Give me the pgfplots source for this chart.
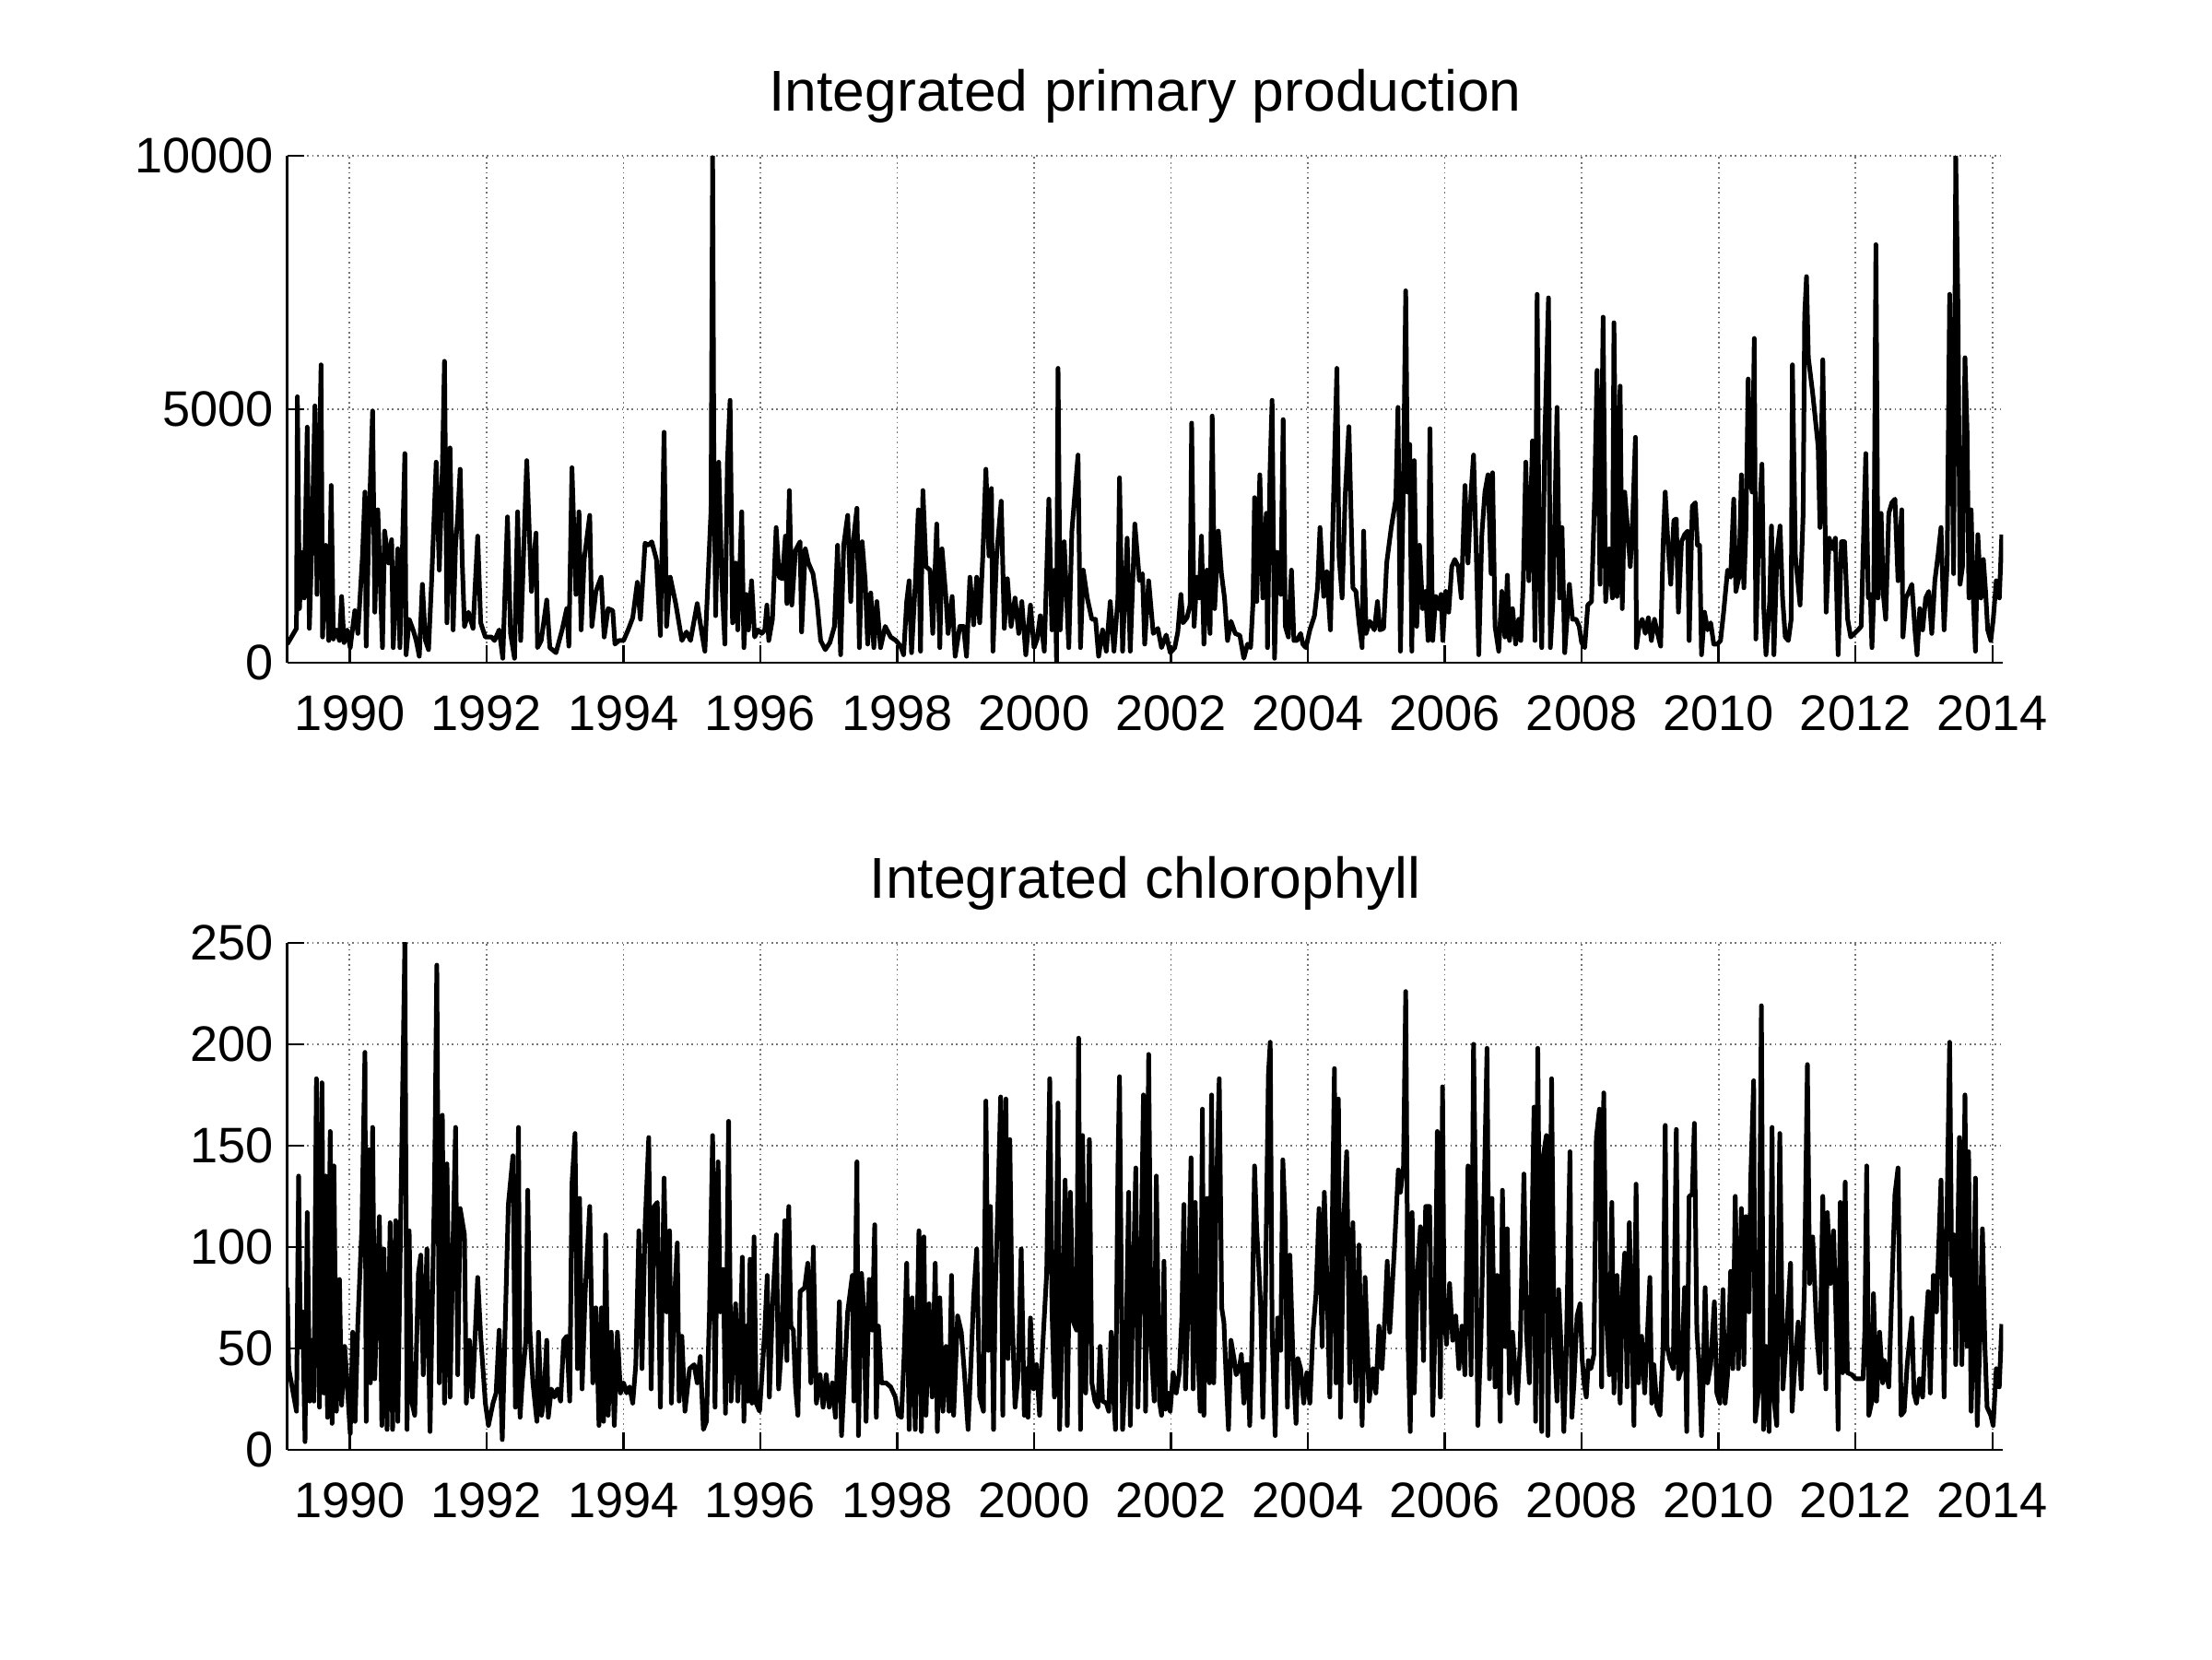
\documentclass[border=0pt]{standalone}
\usepackage{fontspec}
\setmainfont{Liberation Sans}
\usepackage{pgfplots}
\pgfplotsset{compat=1.18}
\pgfplotsset{
  matstyle/.style={
    scale only axis,
    width=446.8pt, height=132pt,
    anchor=south west,
    xmin=1989.09, xmax=2014.156,
    xtick={1990,1992,1994,1996,1998,2000,2002,2004,2006,2008,2010,2012,2014},
    axis x line*=bottom, axis y line*=left,
    axis line style={line width=0.6pt,-},
    tick align=inside, major tick length=4.5pt,
    tick style={line width=0.6pt, black},
    grid=major,
    grid style={dash pattern=on 0.4pt off 0.9pt, line width=0.4pt, black!55},
    scaled ticks=false,
    /pgf/number format/1000 sep={},
    /pgf/number format/assume math mode=true,
    tick label style={font=\fontsize{13}{15}\selectfont},
    xticklabel style={yshift=-5pt},
    title style={font=\fontsize{15}{18}\selectfont, yshift=-1pt},
    clip=true,
  },
  matline/.style={black, line width=1.2pt, line join=round},
}
\begin{document}
\begin{tikzpicture}
\path[use as bounding box] (0,0) rectangle (576pt,432pt);
\begin{axis}[matstyle, at={(74.8pt,259.4pt)},
  ymin=0, ymax=10000, ytick={0,5000,10000},
  title={Integrated primary production}]
\addplot[matline] table {
1989.090 370
1989.225 680
1989.238 5250
1989.269 1070
1989.301 2180
1989.337 1280
1989.382 4650
1989.413 680
1989.449 2320
1989.494 5070
1989.525 1350
1989.584 5880
1989.606 510
1989.651 2320
1989.696 440
1989.732 3500
1989.763 470
1989.808 650
1989.853 440
1989.884 1310
1989.920 400
1989.965 650
1990.010 300
1990.077 1030
1990.122 580
1990.189 2110
1990.225 3370
1990.243 330
1990.279 2530
1990.337 4970
1990.369 1000
1990.413 3020
1990.481 300
1990.512 2600
1990.571 1970
1990.615 2430
1990.638 300
1990.705 2250
1990.736 300
1990.808 4130
1990.826 160
1990.871 860
1990.929 650
1990.974 440
1991.019 130
1991.064 1550
1991.109 440
1991.154 260
1991.199 1620
1991.266 3960
1991.311 1830
1991.356 3850
1991.387 5950
1991.423 790
1991.468 4240
1991.513 650
1991.549 2320
1991.580 2880
1991.616 3820
1991.647 1970
1991.679 720
1991.737 1000
1991.804 680
1991.872 2500
1991.916 790
1991.984 510
1992.073 510
1992.118 440
1992.186 650
1992.239 90
1992.307 2880
1992.352 580
1992.410 90
1992.455 2980
1992.500 440
1992.589 3990
1992.657 1410
1992.724 2560
1992.746 300
1992.800 440
1992.881 1240
1992.926 300
1993.016 200
1993.105 650
1993.173 1070
1993.204 330
1993.249 3850
1993.307 1350
1993.352 2980
1993.383 650
1993.428 2040
1993.509 2910
1993.540 720
1993.599 1410
1993.675 1690
1993.720 510
1993.778 1070
1993.845 1030
1993.877 370
1993.935 440
1994.003 440
1994.070 650
1994.137 890
1994.204 1590
1994.249 860
1994.317 2360
1994.371 2320
1994.415 2390
1994.483 2040
1994.541 540
1994.595 4550
1994.631 720
1994.685 1690
1994.765 1170
1994.855 440
1994.922 610
1994.981 440
1995.079 1170
1995.147 580
1995.191 230
1995.236 1620
1995.281 3020
1995.304 10000
1995.321 4410
1995.348 930
1995.393 3960
1995.438 1620
1995.483 370
1995.520 3960
1995.559 5180
1995.595 790
1995.640 1970
1995.671 650
1995.729 2980
1995.761 300
1995.797 1350
1995.828 650
1995.873 1620
1995.918 510
1995.967 650
1996.021 580
1996.066 650
1996.097 1140
1996.124 440
1996.178 860
1996.232 2670
1996.277 1690
1996.322 1660
1996.367 2500
1996.389 1170
1996.425 3400
1996.461 1140
1996.515 2220
1996.582 2390
1996.604 610
1996.658 2250
1996.703 1970
1996.770 1760
1996.829 1210
1996.882 440
1996.950 260
1997.017 400
1997.084 720
1997.129 2320
1997.174 160
1997.219 2320
1997.277 2910
1997.322 1210
1997.358 2390
1997.412 3050
1997.448 300
1997.488 2390
1997.533 1620
1997.569 370
1997.614 1380
1997.659 300
1997.703 1210
1997.757 300
1997.825 720
1997.905 510
1997.982 440
1998.049 330
1998.094 160
1998.139 1210
1998.175 1620
1998.210 200
1998.264 1550
1998.309 3020
1998.341 230
1998.376 3400
1998.421 1900
1998.480 1830
1998.520 580
1998.578 2740
1998.623 300
1998.655 2250
1998.713 1280
1998.744 580
1998.803 1310
1998.847 130
1998.915 720
1998.969 720
1999.013 130
1999.063 1690
1999.117 750
1999.162 1690
1999.206 790
1999.251 2110
1999.296 3820
1999.341 2110
1999.377 3440
1999.399 230
1999.453 2110
1999.520 3190
1999.565 680
1999.610 1660
1999.664 720
1999.722 1280
1999.776 580
1999.821 1210
1999.879 160
1999.947 1140
2000.000 300
2000.045 470
2000.090 930
2000.149 230
2000.216 3230
2000.261 650
2000.306 1830
2000.328 20
2000.350 5810
2000.382 650
2000.440 2390
2000.507 300
2000.552 2600
2000.642 4100
2000.678 300
2000.718 1830
2000.777 1280
2000.844 860
2000.898 860
2000.943 130
2001.001 650
2001.055 230
2001.113 1210
2001.167 230
2001.225 1280
2001.248 3650
2001.293 230
2001.360 2460
2001.405 230
2001.472 2740
2001.539 1620
2001.584 1760
2001.616 370
2001.674 1620
2001.741 580
2001.808 680
2001.862 300
2001.930 550
2001.990 200
2002.055 300
2002.100 610
2002.145 1350
2002.176 790
2002.234 890
2002.279 1140
2002.302 4730
2002.338 720
2002.378 1690
2002.414 1280
2002.445 2500
2002.481 370
2002.526 1830
2002.571 580
2002.602 4870
2002.638 1070
2002.692 2600
2002.737 1760
2002.782 1280
2002.826 440
2002.876 820
2002.939 580
2003.006 540
2003.064 90
2003.118 370
2003.163 300
2003.199 1210
2003.221 3260
2003.253 1210
2003.298 3710
2003.342 1280
2003.392 2950
2003.410 300
2003.446 3750
2003.477 5180
2003.513 90
2003.549 2180
2003.603 1350
2003.639 4800
2003.670 720
2003.715 510
2003.760 1830
2003.796 440
2003.840 440
2003.894 580
2003.926 370
2003.971 300
2004.029 650
2004.096 930
2004.141 1480
2004.177 2670
2004.231 1310
2004.276 1800
2004.329 650
2004.374 3230
2004.424 5810
2004.455 2110
2004.500 1280
2004.545 3300
2004.599 4660
2004.657 1480
2004.702 1410
2004.747 790
2004.792 300
2004.814 2600
2004.850 580
2004.904 820
2004.971 650
2005.016 1210
2005.052 650
2005.106 680
2005.151 1970
2005.218 2670
2005.285 3230
2005.316 5040
2005.352 230
2005.397 3650
2005.429 7340
2005.456 3370
2005.487 4310
2005.518 230
2005.554 3990
2005.590 720
2005.631 2320
2005.675 1070
2005.720 1410
2005.756 440
2005.783 4620
2005.823 440
2005.868 1310
2005.913 1070
2005.945 1350
2005.971 440
2006.012 1410
2006.057 1000
2006.102 1900
2006.146 2040
2006.196 1900
2006.241 1280
2006.295 3500
2006.339 1970
2006.384 3370
2006.420 4100
2006.461 2110
2006.496 160
2006.541 2530
2006.586 3370
2006.631 3710
2006.676 1760
2006.698 3750
2006.734 720
2006.788 230
2006.833 1410
2006.878 510
2006.914 1730
2006.945 440
2006.990 1070
2007.035 370
2007.080 860
2007.111 440
2007.147 1620
2007.183 3960
2007.228 1620
2007.281 4380
2007.317 440
2007.349 7270
2007.380 1970
2007.416 300
2007.461 4450
2007.515 7200
2007.542 300
2007.582 1280
2007.640 5040
2007.676 1280
2007.712 2670
2007.752 200
2007.820 1550
2007.865 860
2007.918 860
2007.963 720
2007.999 400
2008.044 300
2008.089 1140
2008.143 1210
2008.188 3230
2008.224 5770
2008.268 1550
2008.313 6820
2008.349 1210
2008.404 2250
2008.449 1280
2008.471 6710
2008.516 1310
2008.561 5460
2008.592 1070
2008.628 3370
2008.673 2600
2008.709 1900
2008.740 2670
2008.785 4450
2008.799 300
2008.839 720
2008.884 860
2008.929 580
2008.974 890
2009.018 440
2009.063 860
2009.108 580
2009.153 330
2009.189 2320
2009.220 3370
2009.256 2460
2009.301 1550
2009.346 2810
2009.382 2840
2009.413 1000
2009.458 2390
2009.503 2530
2009.548 2600
2009.570 440
2009.615 3090
2009.660 3160
2009.691 2320
2009.723 2320
2009.750 160
2009.794 1000
2009.839 650
2009.884 790
2009.929 370
2009.983 370
2010.028 440
2010.073 1000
2010.131 1830
2010.176 1690
2010.221 3230
2010.252 1410
2010.297 1690
2010.333 3710
2010.369 1480
2010.400 2670
2010.432 5600
2010.458 3650
2010.490 3370
2010.521 6400
2010.544 470
2010.589 2670
2010.633 3920
2010.660 1070
2010.692 160
2010.746 1210
2010.772 2700
2010.808 160
2010.853 2180
2010.898 2700
2010.934 1280
2010.974 510
2011.019 440
2011.060 860
2011.078 5880
2011.122 2110
2011.190 1140
2011.235 2950
2011.257 6850
2011.284 7620
2011.311 6020
2011.374 5320
2011.454 4270
2011.481 2670
2011.522 5980
2011.544 4060
2011.571 1000
2011.616 2460
2011.661 2250
2011.706 2460
2011.746 160
2011.795 2390
2011.840 2390
2011.885 860
2011.930 510
2011.984 580
2012.038 650
2012.083 720
2012.110 2110
2012.150 4130
2012.186 1280
2012.217 1350
2012.240 300
2012.267 1350
2012.298 8250
2012.329 1280
2012.374 2950
2012.406 1350
2012.441 860
2012.486 2950
2012.531 3160
2012.576 3230
2012.621 1620
2012.675 3020
2012.693 510
2012.737 1280
2012.782 1410
2012.823 1550
2012.868 650
2012.899 160
2012.939 1070
2012.980 650
2013.025 1280
2013.070 1410
2013.114 580
2013.159 1620
2013.204 2110
2013.249 2670
2013.294 650
2013.339 1970
2013.375 7270
2013.406 4690
2013.433 1760
2013.464 10000
2013.496 7060
2013.527 1550
2013.563 1900
2013.599 6020
2013.630 4550
2013.657 1280
2013.689 3020
2013.720 1280
2013.752 230
2013.787 2530
2013.832 1280
2013.868 2040
2013.900 1410
2013.931 650
2013.976 440
2014.012 860
2014.056 1620
2014.101 1280
2014.137 2530
};
\end{axis}
\begin{axis}[matstyle, at={(74.8pt,54.5pt)},
  ymin=0, ymax=250, ytick={0,50,100,150,200,250},
  title={Integrated chlorophyll}]
\addplot[matline] table {
1989.090 80
1989.112 40
1989.225 19
1989.256 135
1989.283 51
1989.314 68
1989.350 4
1989.382 117
1989.418 24
1989.449 54
1989.480 24
1989.516 183
1989.561 21
1989.597 181
1989.628 28
1989.651 135
1989.678 16
1989.718 157
1989.745 13
1989.772 140
1989.808 19
1989.853 84
1989.884 22
1989.929 51
1989.965 33
1990.010 8
1990.046 58
1990.081 14
1990.122 63
1990.180 110
1990.225 196
1990.243 14
1990.279 148
1990.306 33
1990.337 159
1990.369 35
1990.400 75
1990.436 115
1990.472 12
1990.503 99
1990.548 10
1990.593 112
1990.629 10
1990.674 113
1990.705 14
1990.750 120
1990.808 250
1990.840 10
1990.871 108
1990.907 24
1990.952 17
1991.006 87
1991.041 96
1991.077 37
1991.131 99
1991.176 9
1991.203 61
1991.243 134
1991.275 239
1991.311 33
1991.356 165
1991.387 23
1991.423 141
1991.468 26
1991.513 105
1991.549 159
1991.580 37
1991.616 119
1991.679 106
1991.706 23
1991.751 54
1991.795 26
1991.872 85
1991.916 56
1991.984 23
1992.029 12
1992.096 23
1992.141 28
1992.186 59
1992.231 5
1992.275 63
1992.320 121
1992.387 145
1992.423 21
1992.468 159
1992.491 16
1992.522 33
1992.576 54
1992.603 128
1992.634 59
1992.679 33
1992.737 14
1992.760 58
1992.805 17
1992.836 24
1992.881 54
1992.903 16
1992.948 30
1992.993 26
1993.038 30
1993.083 24
1993.128 54
1993.173 56
1993.217 24
1993.249 131
1993.294 156
1993.330 40
1993.361 124
1993.397 30
1993.442 77
1993.509 120
1993.554 33
1993.599 70
1993.644 12
1993.680 70
1993.711 14
1993.742 106
1993.778 17
1993.823 58
1993.868 12
1993.913 58
1993.958 28
1994.003 33
1994.047 28
1994.092 31
1994.137 23
1994.182 42
1994.227 108
1994.272 40
1994.317 110
1994.371 154
1994.406 30
1994.451 120
1994.496 122
1994.541 21
1994.595 134
1994.631 68
1994.675 108
1994.702 23
1994.743 72
1994.788 102
1994.815 24
1994.855 56
1994.900 19
1994.967 40
1995.034 42
1995.079 33
1995.124 46
1995.169 10
1995.214 14
1995.258 68
1995.304 155
1995.339 21
1995.384 142
1995.415 68
1995.460 89
1995.492 18
1995.537 162
1995.573 24
1995.640 72
1995.671 24
1995.707 51
1995.738 95
1995.761 14
1995.788 61
1995.819 24
1995.851 94
1995.878 23
1995.909 105
1995.940 23
1995.990 19
1996.021 35
1996.066 59
1996.102 86
1996.133 26
1996.178 70
1996.236 106
1996.268 30
1996.313 52
1996.358 113
1996.389 44
1996.416 120
1996.447 61
1996.483 59
1996.515 31
1996.550 17
1996.582 78
1996.649 80
1996.694 92
1996.739 33
1996.775 100
1996.820 23
1996.873 37
1996.918 21
1996.963 37
1997.008 21
1997.053 33
1997.098 16
1997.156 73
1997.187 7
1997.232 38
1997.277 68
1997.345 86
1997.367 24
1997.412 142
1997.434 7
1997.479 87
1997.511 70
1997.546 14
1997.591 84
1997.636 59
1997.672 111
1997.695 16
1997.726 61
1997.771 33
1997.838 33
1997.905 31
1997.973 26
1998.017 17
1998.062 16
1998.107 51
1998.139 92
1998.175 10
1998.219 75
1998.264 10
1998.318 108
1998.354 9
1998.390 105
1998.421 17
1998.466 72
1998.511 26
1998.556 92
1998.587 9
1998.623 75
1998.668 19
1998.713 51
1998.758 19
1998.794 86
1998.825 17
1998.883 66
1998.937 58
1998.982 38
1999.036 10
1999.072 38
1999.117 75
1999.162 99
1999.206 26
1999.260 19
1999.296 172
1999.332 49
1999.363 120
1999.408 10
1999.431 75
1999.476 127
1999.512 174
1999.543 17
1999.588 173
1999.619 45
1999.646 153
1999.677 70
1999.722 21
1999.767 37
1999.812 99
1999.857 17
1999.879 40
1999.911 16
1999.947 65
1999.992 30
2000.036 42
2000.081 17
2000.126 51
2000.184 87
2000.229 183
2000.261 70
2000.297 26
2000.328 106
2000.350 171
2000.373 10
2000.409 58
2000.454 133
2000.485 12
2000.530 127
2000.575 63
2000.620 59
2000.651 203
2000.678 10
2000.709 155
2000.754 28
2000.808 153
2000.844 33
2000.889 24
2000.934 21
2000.965 51
2001.001 24
2001.055 23
2001.091 19
2001.126 58
2001.158 28
2001.189 10
2001.225 140
2001.248 184
2001.293 10
2001.337 38
2001.382 127
2001.405 12
2001.450 86
2001.486 139
2001.517 21
2001.562 92
2001.598 175
2001.629 19
2001.674 195
2001.710 51
2001.755 24
2001.786 135
2001.831 24
2001.862 17
2001.898 93
2001.920 20
2001.952 28
2001.988 19
2002.032 38
2002.077 28
2002.122 38
2002.158 65
2002.189 121
2002.212 30
2002.248 68
2002.293 144
2002.324 30
2002.355 122
2002.382 59
2002.427 19
2002.459 168
2002.481 17
2002.526 124
2002.562 33
2002.593 175
2002.625 33
2002.661 124
2002.705 183
2002.741 70
2002.773 63
2002.804 37
2002.840 10
2002.876 54
2002.921 45
2002.952 37
2002.997 40
2003.028 47
2003.064 23
2003.096 42
2003.127 42
2003.150 12
2003.176 42
2003.221 140
2003.253 108
2003.280 92
2003.311 70
2003.342 16
2003.378 73
2003.423 185
2003.450 201
2003.477 59
2003.522 7
2003.558 65
2003.603 49
2003.634 143
2003.670 112
2003.701 21
2003.737 96
2003.782 45
2003.827 13
2003.854 45
2003.894 40
2003.939 23
2003.984 38
2004.029 23
2004.074 58
2004.119 77
2004.163 119
2004.208 51
2004.240 127
2004.276 86
2004.320 26
2004.388 188
2004.410 33
2004.446 173
2004.477 16
2004.522 112
2004.567 147
2004.612 33
2004.657 112
2004.702 24
2004.747 101
2004.792 12
2004.836 85
2004.895 24
2004.949 40
2004.993 28
2005.038 61
2005.083 40
2005.128 68
2005.159 93
2005.195 58
2005.262 98
2005.321 138
2005.352 127
2005.397 140
2005.429 226
2005.464 52
2005.496 9
2005.523 117
2005.554 28
2005.599 86
2005.644 110
2005.689 44
2005.720 120
2005.778 120
2005.823 17
2005.855 56
2005.891 157
2005.935 26
2005.967 179
2005.989 68
2006.025 52
2006.070 82
2006.115 54
2006.160 66
2006.205 40
2006.250 61
2006.294 37
2006.339 140
2006.384 37
2006.420 200
2006.452 117
2006.483 12
2006.528 56
2006.573 124
2006.617 198
2006.653 35
2006.689 124
2006.734 31
2006.765 86
2006.810 14
2006.842 128
2006.877 51
2006.913 109
2006.945 28
2006.990 58
2007.057 23
2007.102 52
2007.156 136
2007.192 58
2007.236 33
2007.304 169
2007.326 14
2007.358 198
2007.394 59
2007.416 9
2007.439 145
2007.484 155
2007.506 7
2007.528 68
2007.560 183
2007.595 56
2007.640 24
2007.663 79
2007.708 44
2007.739 9
2007.775 49
2007.829 147
2007.856 16
2007.887 33
2007.932 66
2007.977 72
2008.008 44
2008.035 33
2008.067 26
2008.098 44
2008.134 40
2008.178 47
2008.214 154
2008.259 168
2008.291 31
2008.322 176
2008.358 68
2008.404 37
2008.440 122
2008.471 28
2008.516 86
2008.561 23
2008.592 75
2008.628 97
2008.664 31
2008.695 112
2008.727 73
2008.763 12
2008.794 131
2008.830 33
2008.875 56
2008.920 28
2008.965 61
2008.996 85
2009.023 23
2009.054 42
2009.099 21
2009.144 17
2009.189 51
2009.220 160
2009.247 51
2009.292 44
2009.337 40
2009.382 158
2009.413 35
2009.458 40
2009.503 80
2009.534 9
2009.570 125
2009.615 126
2009.646 161
2009.682 59
2009.714 42
2009.750 7
2009.772 31
2009.803 80
2009.839 33
2009.884 42
2009.938 73
2009.974 28
2010.019 23
2010.064 79
2010.095 23
2010.131 37
2010.176 88
2010.207 40
2010.243 125
2010.288 40
2010.333 119
2010.369 42
2010.400 115
2010.445 68
2010.467 131
2010.512 182
2010.535 14
2010.580 28
2010.625 219
2010.656 10
2010.692 51
2010.737 9
2010.781 159
2010.804 26
2010.849 12
2010.894 156
2010.939 30
2010.983 52
2011.051 92
2011.073 19
2011.118 44
2011.163 63
2011.208 30
2011.253 80
2011.297 190
2011.329 82
2011.374 105
2011.432 59
2011.477 38
2011.522 125
2011.567 30
2011.589 117
2011.634 82
2011.679 108
2011.724 56
2011.746 10
2011.777 122
2011.813 38
2011.849 132
2011.881 38
2011.948 37
2012.002 35
2012.060 35
2012.110 35
2012.136 59
2012.163 140
2012.195 17
2012.240 24
2012.262 77
2012.307 24
2012.352 58
2012.397 33
2012.419 44
2012.486 31
2012.531 79
2012.576 126
2012.621 139
2012.666 17
2012.711 19
2012.755 42
2012.823 65
2012.854 28
2012.890 23
2012.935 35
2012.980 26
2013.016 54
2013.061 78
2013.092 28
2013.137 86
2013.182 68
2013.249 133
2013.294 26
2013.330 103
2013.375 201
2013.406 86
2013.437 106
2013.464 42
2013.518 154
2013.554 42
2013.599 175
2013.630 51
2013.652 147
2013.689 19
2013.720 59
2013.752 134
2013.778 12
2013.814 51
2013.854 109
2013.890 51
2013.922 21
2013.976 17
2014.011 12
2014.056 40
2014.100 31
2014.137 62
};
\end{axis}
\end{tikzpicture}
\end{document}
